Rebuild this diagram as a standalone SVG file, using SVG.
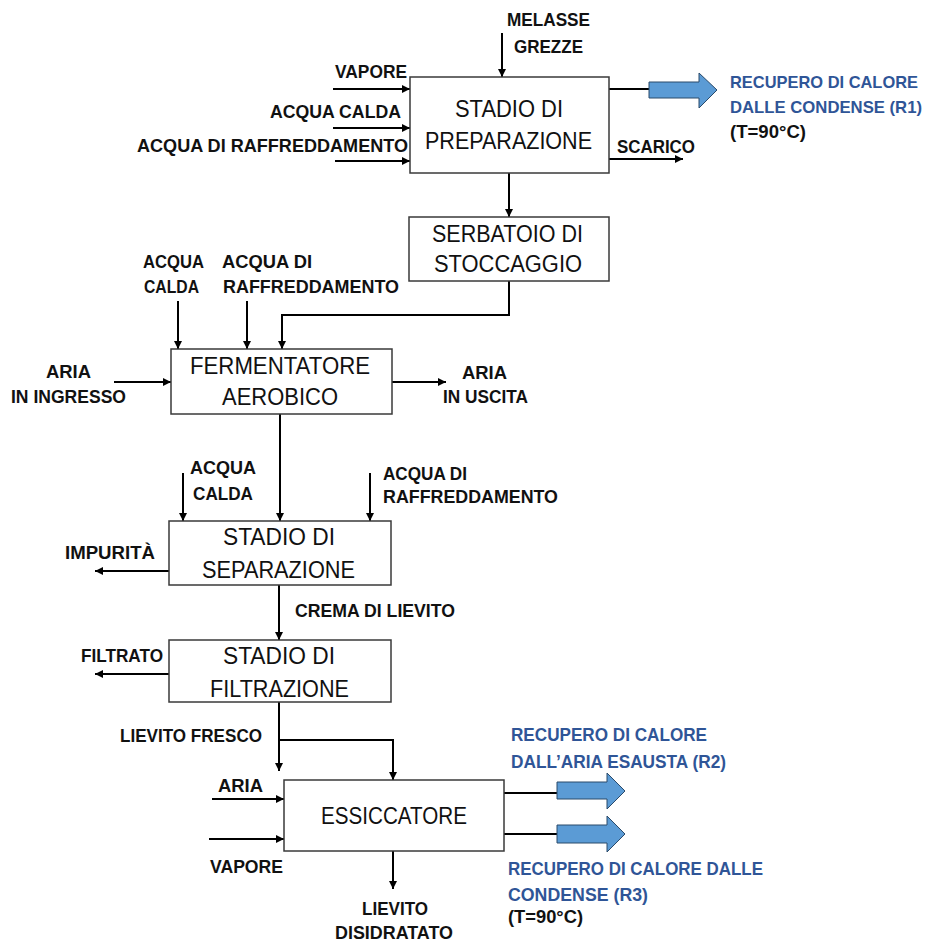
<svg xmlns="http://www.w3.org/2000/svg" width="932" height="944" viewBox="0 0 932 944">
<defs>
<marker id="ah" viewBox="0 0 10 10" refX="10" refY="5" markerWidth="9" markerHeight="8" markerUnits="userSpaceOnUse" orient="auto">
<path d="M0,0 L10,5 L0,10 z" fill="#000"/>
</marker>
<style>
.box{fill:#fff;stroke:#3a3a3a;stroke-width:1.5}
.bt{font-family:"Liberation Sans",Arial,sans-serif;font-size:23.5px;fill:#111}
.lb{font-family:"Liberation Sans",Arial,sans-serif;font-size:18px;font-weight:bold;fill:#111}
.bl{font-family:"Liberation Sans",Arial,sans-serif;font-size:18px;font-weight:bold;fill:#2F5597}
.r1{font-size:17px}
.c{fill:none;stroke:#000;stroke-width:2}
.a{marker-end:url(#ah)}
.blk{fill:#5B9BD5;stroke:#2a4a6a;stroke-width:1}
</style>
</defs>
<rect width="932" height="944" fill="#fff"/>

<g id="connectors">
<path class="c a" d="M502,33 V77"/>
<path class="c a" d="M333,89 H410"/>
<path class="c a" d="M333,128 H410"/>
<path class="c a" d="M335,161 H410"/>
<path class="c" d="M609,89 H650"/>
<path class="c a" d="M609,159 H683"/>
<path class="c a" d="M509,173 V217"/>
<path class="c a" d="M509,281 V315 H282 V349"/>
<path class="c a" d="M178,301 V349"/>
<path class="c a" d="M247,301 V349"/>
<path class="c a" d="M114,382 H171"/>
<path class="c a" d="M392,382 H446"/>
<path class="c a" d="M280,414 V521"/>
<path class="c a" d="M183,473 V521"/>
<path class="c a" d="M370,473 V521"/>
<path class="c a" d="M169,571 H95"/>
<path class="c a" d="M279,585 V640"/>
<path class="c a" d="M169,674 H95"/>
<path class="c a" d="M279,702 V771"/>
<path class="c a" d="M279,740 H393 V780"/>
<path class="c a" d="M212,799 H284"/>
<path class="c a" d="M209,839 H284"/>
<path class="c a" d="M393,851 V889"/>
<path class="c" d="M504,793 H558"/>
<path class="c" d="M504,834 H558"/>
<polygon class="blk" points="649,82 699,82 699,73 717,90 699,108 699,98 649,98"/>
<polygon class="blk" points="557,782 607,782 607,773 625,791 607,809 607,799 557,799"/>
<polygon class="blk" points="557,825 607,825 607,816 625,834 607,852 607,843 557,843"/>
</g>

<g id="preparazione">
<rect class="box" x="410" y="77" width="199" height="96"/>
<text class="bt" x="455" y="117" textLength="108" lengthAdjust="spacingAndGlyphs">STADIO DI</text>
<text class="bt" x="425" y="149" textLength="167" lengthAdjust="spacingAndGlyphs">PREPARAZIONE</text>
</g>
<g id="serbatoio">
<rect class="box" x="409" y="217" width="200" height="64"/>
<text class="bt" x="432" y="242" textLength="151" lengthAdjust="spacingAndGlyphs">SERBATOIO DI</text>
<text class="bt" x="434" y="272" textLength="148" lengthAdjust="spacingAndGlyphs">STOCCAGGIO</text>
</g>
<g id="fermentatore">
<rect class="box" x="171" y="349" width="221" height="65"/>
<text class="bt" x="190" y="374" textLength="180" lengthAdjust="spacingAndGlyphs">FERMENTATORE</text>
<text class="bt" x="222" y="405" textLength="116" lengthAdjust="spacingAndGlyphs">AEROBICO</text>
</g>
<g id="separazione">
<rect class="box" x="169" y="521" width="222" height="64"/>
<text class="bt" x="223" y="545" textLength="112" lengthAdjust="spacingAndGlyphs">STADIO DI</text>
<text class="bt" x="202" y="578" textLength="153" lengthAdjust="spacingAndGlyphs">SEPARAZIONE</text>
</g>
<g id="filtrazione">
<rect class="box" x="169" y="640" width="222" height="62"/>
<text class="bt" x="223" y="664" textLength="112" lengthAdjust="spacingAndGlyphs">STADIO DI</text>
<text class="bt" x="210" y="697" textLength="139" lengthAdjust="spacingAndGlyphs">FILTRAZIONE</text>
</g>
<g id="essiccatore">
<rect class="box" x="284" y="780" width="220" height="71"/>
<text class="bt" x="321" y="824" textLength="146" lengthAdjust="spacingAndGlyphs">ESSICCATORE</text>
</g>

<g id="labels">
<text class="lb" x="507" y="26" textLength="83" lengthAdjust="spacingAndGlyphs">MELASSE</text>
<text class="lb" x="514" y="53" textLength="69" lengthAdjust="spacingAndGlyphs">GREZZE</text>
<text class="lb" x="335" y="78" textLength="72" lengthAdjust="spacingAndGlyphs">VAPORE</text>
<text class="lb" x="270" y="118" textLength="131" lengthAdjust="spacingAndGlyphs">ACQUA CALDA</text>
<text class="lb" x="137" y="152" textLength="271" lengthAdjust="spacingAndGlyphs">ACQUA DI RAFFREDDAMENTO</text>
<text class="lb" x="617" y="153" textLength="78" lengthAdjust="spacingAndGlyphs">SCARICO</text>
<text class="bl r1" x="730" y="88" textLength="188" lengthAdjust="spacingAndGlyphs">RECUPERO DI CALORE</text>
<text class="bl r1" x="730" y="113" textLength="192" lengthAdjust="spacingAndGlyphs">DALLE CONDENSE (R1)</text>
<text class="lb" x="730" y="138" textLength="76" lengthAdjust="spacingAndGlyphs">(T=90°C)</text>

<text class="lb" x="143" y="268" textLength="61" lengthAdjust="spacingAndGlyphs">ACQUA</text>
<text class="lb" x="144" y="293" textLength="55" lengthAdjust="spacingAndGlyphs">CALDA</text>
<text class="lb" x="222" y="268" textLength="90" lengthAdjust="spacingAndGlyphs">ACQUA DI</text>
<text class="lb" x="223" y="293" textLength="176" lengthAdjust="spacingAndGlyphs">RAFFREDDAMENTO</text>
<text class="lb" x="46" y="378" textLength="45" lengthAdjust="spacingAndGlyphs">ARIA</text>
<text class="lb" x="11" y="403" textLength="115" lengthAdjust="spacingAndGlyphs">IN INGRESSO</text>
<text class="lb" x="462" y="379" textLength="45" lengthAdjust="spacingAndGlyphs">ARIA</text>
<text class="lb" x="443" y="403" textLength="85" lengthAdjust="spacingAndGlyphs">IN USCITA</text>

<text class="lb" x="190" y="474" textLength="66" lengthAdjust="spacingAndGlyphs">ACQUA</text>
<text class="lb" x="193" y="500" textLength="60" lengthAdjust="spacingAndGlyphs">CALDA</text>
<text class="lb" x="383" y="480" textLength="84" lengthAdjust="spacingAndGlyphs">ACQUA DI</text>
<text class="lb" x="383" y="503" textLength="175" lengthAdjust="spacingAndGlyphs">RAFFREDDAMENTO</text>
<text class="lb" x="65" y="559" textLength="90" lengthAdjust="spacingAndGlyphs">IMPURITÀ</text>
<text class="lb" x="295" y="617" textLength="160" lengthAdjust="spacingAndGlyphs">CREMA DI LIEVITO</text>
<text class="lb" x="81" y="662" textLength="82" lengthAdjust="spacingAndGlyphs">FILTRATO</text>
<text class="lb" x="120" y="742" textLength="142" lengthAdjust="spacingAndGlyphs">LIEVITO FRESCO</text>
<text class="lb" x="218" y="792" textLength="45" lengthAdjust="spacingAndGlyphs">ARIA</text>
<text class="lb" x="210" y="873" textLength="73" lengthAdjust="spacingAndGlyphs">VAPORE</text>
<text class="lb" x="362" y="915" textLength="66" lengthAdjust="spacingAndGlyphs">LIEVITO</text>
<text class="lb" x="335" y="939" textLength="118" lengthAdjust="spacingAndGlyphs">DISIDRATATO</text>

<text class="bl" x="511" y="741" textLength="196" lengthAdjust="spacingAndGlyphs">RECUPERO DI CALORE</text>
<text class="bl" x="511" y="768" textLength="215" lengthAdjust="spacingAndGlyphs">DALL’ARIA ESAUSTA (R2)</text>
<text class="bl" x="508" y="875" textLength="255" lengthAdjust="spacingAndGlyphs">RECUPERO DI CALORE DALLE</text>
<text class="bl" x="508" y="901" textLength="140" lengthAdjust="spacingAndGlyphs">CONDENSE (R3)</text>
<text class="lb" x="508" y="923" textLength="75" lengthAdjust="spacingAndGlyphs">(T=90°C)</text>
</g>
</svg>
